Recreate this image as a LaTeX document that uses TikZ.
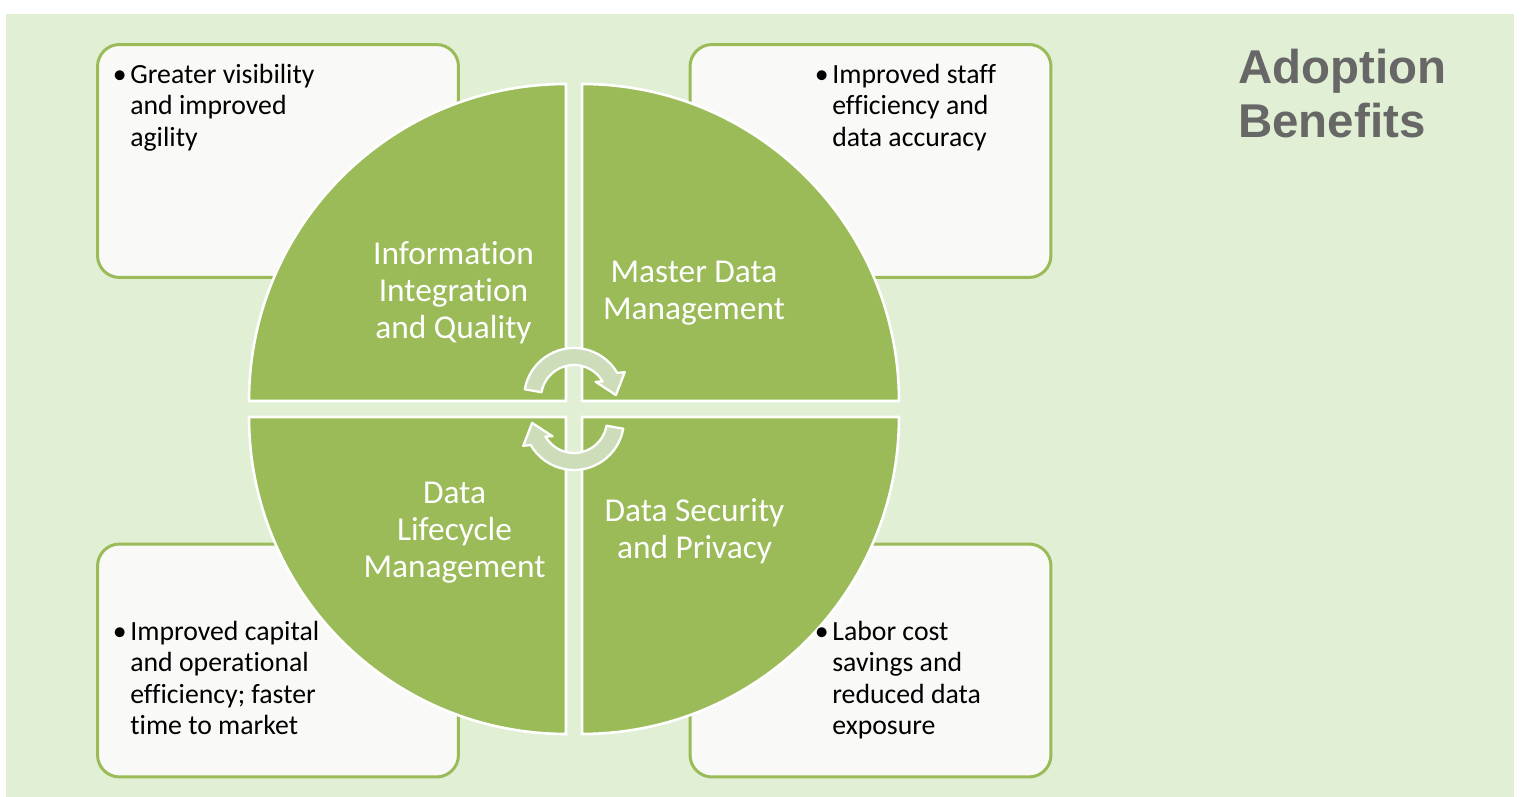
\documentclass[tikz,border=0pt]{standalone}
\usepackage{fontspec}
\setmainfont{Carlito}[Ligatures=NoCommon]
\newfontfamily\headfont{Liberation Sans}
\usepackage{tikz}
\definecolor{panelgreen}{HTML}{E1EFD4}
\definecolor{pielime}{HTML}{9BBB59}
\definecolor{notefill}{HTML}{F9F9F7}
\definecolor{arrowsage}{HTML}{CDDDBA}
\definecolor{titlegray}{HTML}{676767}
\tikzset{
  benefitbox/.style={
    rectangle, rounded corners=0.44cm, draw=pielime, fill=notefill,
    line width=1.7pt, minimum width=7.22cm, minimum height=4.66cm
  },
  quadrant/.style={fill=pielime, draw=white, line width=1.5pt},
  quadlabel/.style={
    text=white, align=center, inner sep=0pt,
    font=\fontsize{19}{21}\selectfont
  },
  notetext/.style={
    anchor=north west, inner sep=0pt,
    font=\fontsize{15.8}{17.9}\selectfont
  },
  cyclearrow/.style={fill=arrowsage, draw=white, line width=1.3pt, line join=round},
  titletext/.style={
    anchor=north west, align=left, inner sep=0pt, text=titlegray,
    font=\headfont\bfseries\fontsize{27}{30.6}\selectfont
  }
}
% bullet item with hanging lines
\newcommand{\benefit}[1]{%
  \begin{tabular}[t]{@{}l@{}l@{}}\makebox[0.3cm][l]{\hspace{-0.05cm}\textbullet} &
  \begin{tabular}[t]{@{}l@{}}#1\end{tabular}\end{tabular}}
% curved cycle arrow, centred on the current origin
\newcommand{\cyclepath}{%
  (170:50) arc[start angle=170, end angle=30, radius=50] -- (27:57) -- (4:42)
  -- (37:27) -- (30:33) arc[start angle=30, end angle=170, radius=33] -- cycle}

\begin{document}
\begin{tikzpicture}[x=0.02cm, y=0.02cm]

\useasboundingbox (0,0) rectangle (1524,797);
\fill[white] (0,0) rectangle (1524,797);
\fill[panelgreen] (6,0) rectangle (1514,783);

% ── Benefit boxes (behind the pie) ───────────────────────────────────────────
\node[benefitbox] (boxTL) at (278, 636) {};
\node[benefitbox] (boxTR) at (870.5, 636) {};
\node[benefitbox] (boxBL) at (278, 136.5) {};
\node[benefitbox] (boxBR) at (870.5, 136.5) {};

% ── Pie quadrants ────────────────────────────────────────────────────────────
\draw[quadrant] (566,396) -- (566,713) arc[start angle=90, end angle=180, radius=317] -- cycle;
\draw[quadrant] (582,396) -- (899,396) arc[start angle=0, end angle=90, radius=317] -- cycle;
\draw[quadrant] (566,380) -- (249,380) arc[start angle=180, end angle=270, radius=317] -- cycle;
\draw[quadrant] (582,380) -- (582,63) arc[start angle=270, end angle=360, radius=317] -- cycle;

\node[quadlabel] (secInfo) at (453.5, 504.5) {Information\\Integration\\and Quality};
\node[quadlabel] (secMaster) at (694, 503.5) {Master Data\\Management};
\node[quadlabel] (secLife) at (454.5, 264) {Data\\Lifecycle\\Management};
\node[quadlabel] (secSecure) at (694.5, 265.5) {Data Security\\and Privacy};

% ── Cycle arrows in the middle ───────────────────────────────────────────────
\begin{scope}[shift={(574,399)}]
  \draw[cyclearrow] \cyclepath;
\end{scope}
\begin{scope}[shift={(574,377)}, rotate=180]
  \draw[cyclearrow] \cyclepath;
\end{scope}

% ── Box texts ────────────────────────────────────────────────────────────────
\node[notetext] (noteTL) at (115, 736) {\benefit{Greater visibility\\and improved\\agility}};
\node[notetext] (noteTR) at (817, 736) {\benefit{Improved staff\\efficiency and\\data accuracy}};
\node[notetext] (noteBL) at (115, 179) {\benefit{Improved capital\\and operational\\efficiency; faster\\time to market}};
\node[notetext] (noteBR) at (817, 179) {\benefit{Labor cost\\savings and\\reduced data\\exposure}};

% ── Title ────────────────────────────────────────────────────────────────────
\node[titletext] (title) at (1238, 748) {Adoption\\Benefits};

\end{tikzpicture}
\end{document}
